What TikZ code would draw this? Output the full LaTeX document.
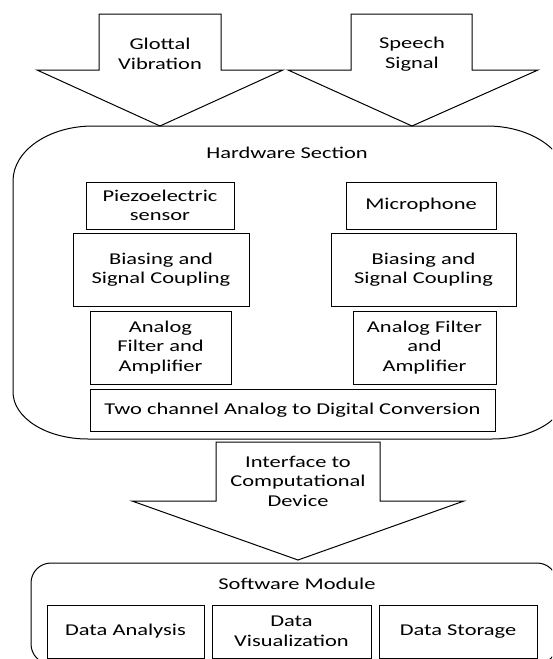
\documentclass[tikz,border=0pt]{standalone}
\usepackage{fontspec}
\setmainfont{Carlito}[FakeStretch=1.36]
\begin{document}
\begin{tikzpicture}[x=1pt,y=-1pt,
  txt/.style={align=center,inner sep=0pt,font=\fontsize{16.5}{19.5}\selectfont},
  box/.style={txt,draw,line width=1pt},
  outline/.style={draw,line width=1pt,line join=miter}]
\useasboundingbox (0,0) rectangle (552,659);
\clip (0,0) rectangle (552,659);
\fill[white] (0,0) rectangle (552,659);
% input arrows
\draw[outline] (99,14) -- (221,14) -- (221,70) -- (283,70) -- (160,126) -- (37,70) -- (99,70) -- cycle;
\node[txt] (glottal) at (160,54) {Glottal\\Vibration};
\draw[outline] (351,14) -- (472,14) -- (472,70) -- (538,70) -- (412,126) -- (288,70) -- (351,70) -- cycle;
\node[txt] (speech) at (412,54) {Speech\\Signal};
% hardware section
\draw[outline] (93,126) -- (487,126)
  .. controls (531.2,126) and (567,150.6) .. (567,181)
  -- (567,392)
  .. controls (567,418) and (533.4,439) .. (492,439)
  -- (88,439)
  .. controls (46.6,439) and (13,418) .. (13,392)
  -- (13,181)
  .. controls (13,150.6) and (48.8,126) .. (93,126) -- cycle;
\node[txt] (hw) at (287,153) {Hardware Section};
\node[box,minimum width=148,minimum height=47] (piezo) at (160,205.5) {Piezoelectric\\sensor};
\node[box,minimum width=150,minimum height=47] (mic) at (421,205.5) {Microphone};
\node[box,minimum width=176,minimum height=73] (biasL) at (161,269.5) {Biasing and\\Signal Coupling};
\node[box,minimum width=185,minimum height=73] (biasR) at (423.5,269.5) {Biasing and\\Signal Coupling};
\node[box,minimum width=141,minimum height=73] (anaL) at (160.5,347.5) {Analog\\Filter and\\Amplifier};
\node[box,minimum width=143,minimum height=73] (anaR) at (424.5,347.5) {Analog Filter\\and\\Amplifier};
\node[box,minimum width=405,minimum height=42] (adc) at (292.5,410) {Two channel Analog to Digital Conversion};
% interface arrow
\draw[outline] (216,442) -- (380,442) -- (380,501) -- (464,501) -- (298,560) -- (132,501) -- (216,501) -- cycle;
\node[txt] (iface) at (298,481) {Interface to\\Computational\\Device};
% software module
\draw[outline,rounded corners=20pt] (31,563) rectangle (557,664);
\node[txt] (sw) at (297,584) {Software Module};
\node[box,minimum width=157,minimum height=53] (dataA) at (125.5,631.5) {Data Analysis};
\node[box,minimum width=159,minimum height=53] (dataV) at (291.5,631.5) {Data\\Visualization};
\node[box,minimum width=158,minimum height=53] (dataS) at (458,631.5) {Data Storage};
\end{tikzpicture}
\end{document}
